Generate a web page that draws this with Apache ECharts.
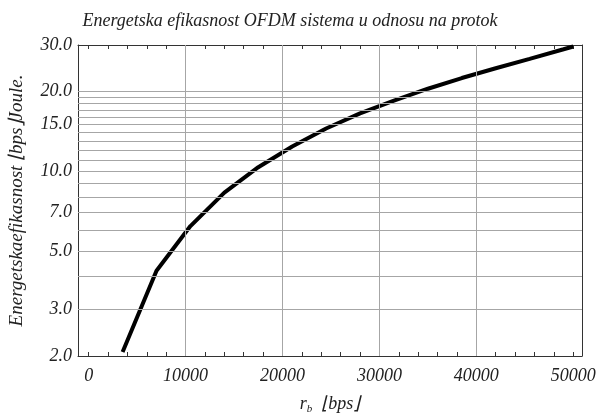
<!DOCTYPE html>
<html>
<head>
<meta charset="utf-8">
<script src="https://cdn.jsdelivr.net/npm/echarts@6/dist/echarts.min.js"></script>
<style>html,body{margin:0;padding:0;background:#fff;}#c{width:603px;height:414px;}</style>
</head>
<body>
<div id="c"></div>
<script>
const xLabelTicks = [0, 10000, 20000, 30000, 40000, 50000];
const xMinorTicks = [0, 2000, 4000, 6000, 8000, 10000, 12000, 14000, 16000, 18000, 20000, 22000, 24000, 26000, 28000, 30000, 32000, 34000, 36000, 38000, 40000, 42000, 44000, 46000, 48000, 50000];
const xGridLines = [10000, 20000, 30000, 40000];
const yLabelTicks = [2, 3, 5, 7, 10, 15, 20, 30];
const yMinorTicks = [2, 3, 4, 5, 6, 7, 8, 9, 10, 11, 12, 13, 14, 15, 16, 17, 18, 19, 20, 30];
const yGridLines = [3, 4, 5, 6, 7, 8, 9, 10, 11, 12, 13, 14, 15, 16, 17, 18, 19, 20];
const rate = [3500, 7000, 10500, 14000, 17500, 21000, 24500, 28000, 31500, 35000, 38500, 42000, 45500, 49000, 50000];
const efficiency = [2.07, 4.2, 6.2, 8.3, 10.35, 12.4, 14.5, 16.55, 18.5, 20.5, 22.5, 24.5, 26.6, 28.9, 29.6];

const font = 'Liberation Serif';
const txt = '#222';
const chart = echarts.init(document.getElementById('c'));
const axisLineStyle = { show: true, onZero: false, lineStyle: { color: '#333', width: 1 } };
chart.setOption({
  animation: false,
  title: {
    text: 'Energetska efikasnost OFDM sistema u odnosu na protok',
    left: 285, top: 7, textAlign: 'center',
    textStyle: { fontFamily: font, fontStyle: 'italic', fontWeight: 'normal', fontSize: 18, color: txt }
  },
  grid: { left: 78, right: 21, top: 45, bottom: 58, containLabel: false, outerBoundsMode: 'none' },
  xAxis: [{
    type: 'value', min: -1100, max: 50900, position: 'bottom',
    name: '{r|r}{s|b}{u|  \u230Abps\u230B}', nameLocation: 'middle', nameGap: 38,
    nameTextStyle: {
      rich: {
        r: { fontFamily: font, fontStyle: 'italic', fontSize: 18, color: txt },
        s: { fontFamily: font, fontStyle: 'italic', fontSize: 11, color: txt, padding: [10, 0, 0, 0] },
        u: { fontFamily: font, fontStyle: 'italic', fontSize: 18, color: txt }
      }
    },
    axisLine: axisLineStyle,
    axisTick: { show: true, inside: true, length: 4, customValues: xMinorTicks, lineStyle: { color: '#333' } },
    axisLabel: { customValues: xLabelTicks, fontFamily: font, fontStyle: 'italic', fontSize: 18, color: txt, margin: 11,
      formatter: v => String(Math.round(v)) },
    splitLine: { show: false }
  }, {
    type: 'value', min: -1100, max: 50900, position: 'top',
    axisLine: axisLineStyle,
    axisTick: { show: true, inside: true, length: 4, customValues: xMinorTicks, lineStyle: { color: '#333' } },
    axisLabel: { show: false },
    splitLine: { show: false }
  }],
  yAxis: [{
    type: 'log', logBase: 10, min: 2, max: 30, position: 'left',
    name: 'Energetskaefikasnost \u230Abps\u230BJoule.', nameLocation: 'middle', nameGap: 52, nameRotate: 90,
    nameTextStyle: { fontFamily: font, fontStyle: 'italic', fontSize: 19, color: txt },
    axisLine: axisLineStyle,
    axisTick: { show: true, inside: true, length: 4, customValues: yMinorTicks, lineStyle: { color: '#333' } },
    axisLabel: { customValues: yLabelTicks, fontFamily: font, fontStyle: 'italic', fontSize: 18, color: txt, margin: 6,
      formatter: v => Number(v).toFixed(1) },
    splitLine: { show: false }
  }, {
    type: 'log', logBase: 10, min: 2, max: 30, position: 'right',
    axisLine: axisLineStyle,
    axisTick: { show: true, inside: true, length: 4, customValues: yMinorTicks, lineStyle: { color: '#333' } },
    axisLabel: { show: false },
    splitLine: { show: false }
  }],
  series: [{
    type: 'line', data: [], z: 1, silent: true,
    markLine: {
      silent: true, symbol: 'none', animation: false,
      label: { show: false },
      lineStyle: { color: '#a6a6a6', width: 1, type: 'solid' },
      data: xGridLines.map(v => ({ xAxis: v })).concat(yGridLines.map(v => ({ yAxis: v })))
    }
  }, {
    type: 'line', z: 3,
    data: rate.map((r, i) => [r, efficiency[i]]),
    symbol: 'none', smooth: false,
    lineStyle: { color: '#000', width: 4 }
  }]
});
</script>
</body>
</html>
